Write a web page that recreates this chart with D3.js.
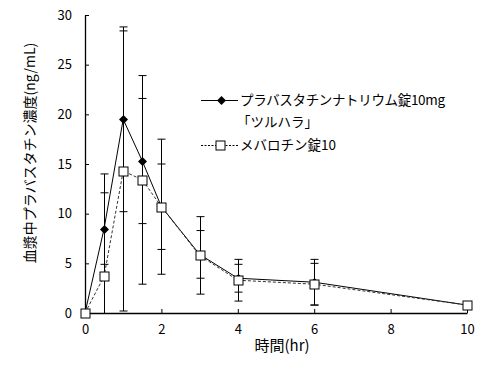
<!DOCTYPE html>
<html><head><meta charset="utf-8">
<script src="https://cdn.jsdelivr.net/npm/d3@7"></script>
<style>body{margin:0;background:#fff;} svg{display:block;}</style>
</head><body>
<svg id="chart" width="500" height="366"></svg>
<script>
const times = [0, 0.5, 1, 1.5, 2, 3, 4, 6, 10];
const seriesNames = ["プラバスタチンナトリウム錠10mg", "メバロチン錠10"];
const legendLine2 = "「ツルハラ」";
const s1Mean = [0, 8.5, 19.5, 15.3, 10.7, 5.9, 3.5, 3.1, 0.8];
const s1Sd   = [0, 3.6, 9.3, 6.3, 4.3, 2.4, 1.4, 2.3, 0.2];
const s2Mean = [0, 3.7, 14.3, 13.4, 10.7, 5.8, 3.3, 2.9, 0.8];
const s2Sd   = [0, 10.3, 14.1, 10.5, 6.8, 3.9, 2.1, 2.1, 0.2];
const xTicks = [0, 2, 4, 6, 8, 10];
const yTicks = [0, 5, 10, 15, 20, 25, 30];
const xTitle = "時間(hr)";
const yTitle = "血漿中プラバスタチン濃度(ng/mL)";

const font = "'Noto Sans CJK JP', 'Noto Sans', sans-serif";
const svg = d3.select("#chart");
const x = d3.scaleLinear().domain([0, 10]).range([85, 467]);
const y = d3.scaleLinear().domain([0, 30]).range([313, 15]);

// axes
const gx = svg.append("g").attr("transform", `translate(0,${y(0)})`)
  .call(d3.axisBottom(x).tickValues(xTicks).tickSizeInner(-4).tickSizeOuter(0).tickPadding(12));
const gy = svg.append("g").attr("transform", `translate(${x(0)},0)`)
  .call(d3.axisLeft(y).tickValues(yTicks).tickSizeInner(-4).tickSizeOuter(0).tickPadding(13));
[gx, gy].forEach(g => {
  g.selectAll("path.domain").attr("stroke", "#000").attr("stroke-width", 1.3);
  g.selectAll(".tick line").attr("stroke", "#000");
  g.selectAll("text").attr("font-family", font).attr("font-size", 13).attr("fill", "#000");
});

// titles
svg.append("text").attr("x", 282).attr("y", 351).attr("text-anchor", "middle")
  .attr("font-family", font).attr("font-size", 15).text(xTitle);
svg.append("text").attr("transform", "translate(35,153) rotate(-90)").attr("text-anchor", "middle")
  .attr("font-family", font).attr("font-size", 14).text(yTitle);

const series = [
  {mean: s1Mean, sd: s1Sd, dash: null, marker: "diamond"},
  {mean: s2Mean, sd: s2Sd, dash: "3,2", marker: "square"}
];

// error bars
series.forEach(s => {
  const g = svg.append("g");
  times.forEach((t, i) => {
    if (s.sd[i] <= 0) return;
    const hi = s.mean[i] + s.sd[i];
    const loRaw = s.mean[i] - s.sd[i];
    const lo = Math.max(0, loRaw);
    const cx = Math.round(x(t)) + 0.5;
    g.append("line").attr("x1", cx).attr("x2", cx).attr("y1", y(hi)).attr("y2", y(lo))
      .attr("stroke", "#000").attr("stroke-width", 1);
    g.append("line").attr("x1", cx - 4).attr("x2", cx + 4).attr("y1", y(hi)).attr("y2", y(hi))
      .attr("stroke", "#000").attr("stroke-width", 1);
    if (loRaw > 0) g.append("line").attr("x1", cx - 4).attr("x2", cx + 4).attr("y1", y(lo)).attr("y2", y(lo))
      .attr("stroke", "#000").attr("stroke-width", 1);
  });
});

// lines
const line = d3.line().x((d, i) => x(times[i])).y(d => y(d));
series.forEach(s => {
  svg.append("path").datum(s.mean).attr("d", line).attr("fill", "none")
    .attr("stroke", s.dash ? "#333" : "#000").attr("stroke-width", 1)
    .attr("stroke-dasharray", s.dash);
});

function drawMarker(g, type, cx, cy) {
  if (type === "diamond") {
    g.append("path").attr("d", `M${cx},${cy-4.5}L${cx+4.5},${cy}L${cx},${cy+4.5}L${cx-4.5},${cy}Z`)
      .attr("fill", "#000");
  } else {
    g.append("rect").attr("x", cx - 4.5).attr("y", cy - 4.5).attr("width", 9).attr("height", 9)
      .attr("fill", "#fff").attr("stroke", "#000").attr("stroke-width", 1);
  }
}
series.forEach(s => {
  const g = svg.append("g");
  s.mean.forEach((v, i) => drawMarker(g, s.marker, Math.round(x(times[i])) + 0.5, Math.round(y(v)) + 0.5));
});

// legend
const lg = svg.append("g");
lg.append("line").attr("x1", 201).attr("x2", 238).attr("y1", 100.5).attr("y2", 100.5).attr("stroke", "#000");
drawMarker(lg, "diamond", 221.5, 100.5);
lg.append("line").attr("x1", 201).attr("x2", 238).attr("y1", 145.5).attr("y2", 145.5).attr("stroke", "#000")
  .attr("stroke-dasharray", "2,1.5");
drawMarker(lg, "square", 220.5, 145.5);
lg.append("text").attr("x", 240).attr("y", 105).attr("font-family", font).attr("font-size", 13.5)
  .attr("textLength", 205).attr("lengthAdjust", "spacing").text(seriesNames[0]);
lg.append("text").attr("x", 237).attr("y", 127).attr("font-family", font).attr("font-size", 13.5).text(legendLine2);
lg.append("text").attr("x", 240).attr("y", 150).attr("font-family", font).attr("font-size", 13.5).text(seriesNames[1]);
</script>
</body></html>
